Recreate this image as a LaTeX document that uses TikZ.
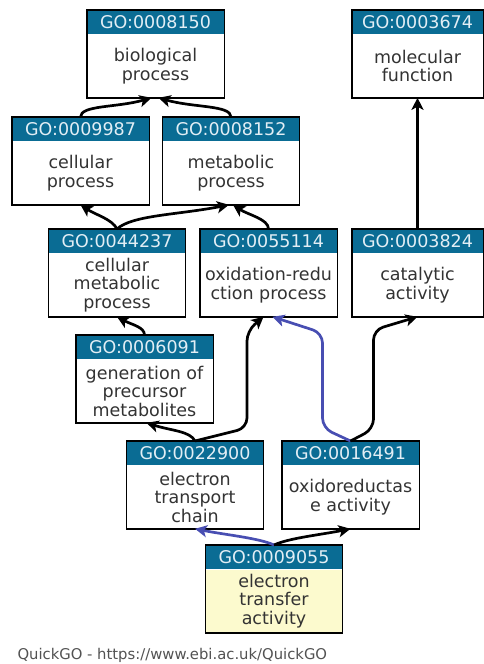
\documentclass[tikz,border=0pt]{standalone}
\usepackage{fontspec}
\setmainfont{DejaVu Sans}
\usepackage{tikz}
\usetikzlibrary{arrows.meta}

\definecolor{headblue}{RGB}{10,108,148}
\definecolor{headtext}{RGB}{226,238,245}
\definecolor{bodytext}{RGB}{51,51,51}
\definecolor{termyellow}{RGB}{252,250,206}
\definecolor{partblue}{RGB}{72,78,178}

\tikzset{
    termw/.store in=\termw, termw=137pt,
    termfill/.store in=\termfill, termfill=white,
    gohead/.style={fill=headblue, text=headtext, minimum width=\termw, minimum height=24pt,
        inner sep=0pt, font=\fontsize{17.5}{18.5}\selectfont},
    gobody/.style={fill=\termfill, text=bodytext, minimum width=\termw, minimum height=63pt,
        inner sep=0pt, align=center, font=\fontsize{17.5}{18.5}\selectfont},
    goframe/.style={draw=black, line width=1.4pt},
    isa/.style={line width=2.7pt, rounded corners=10pt, -{Stealth[length=12pt,width=12pt,inset=3pt]}},
    partof/.style={draw=partblue},
    credit/.style={text=bodytext!85, font=\fontsize{14.8}{16}\selectfont},
}

% header + body of one term
\newcommand{\goterm}[5][]{%
    \node[#1, gohead, anchor=north] (#2h) at #3 {#4};
    \node[#1, gobody, anchor=north] (#2) at (#2h.south) {#5};
    \draw[goframe] (#2h.north west) rectangle (#2.south east);
}

\begin{document}
\begin{tikzpicture}[x=1pt, y=-1pt]
    \useasboundingbox (0, 0) rectangle (484, 664);

    \goterm{go8150}{(155.5, 10)}{GO:0008150}{biological\\process}
    \goterm[termw=131pt]{go3674}{(417.5, 10)}{GO:0003674}{molecular\\function}
    \goterm{go9987}{(80.5, 117)}{GO:0009987}{cellular\\process}
    \goterm{go8152}{(231, 117)}{GO:0008152}{metabolic\\process}
    \goterm{go4237}{(117, 229)}{GO:0044237}{cellular\\metabolic\\process}
    \goterm{go5114}{(268.5, 229)}{GO:0055114}{oxidation-redu\\ction process}
    \goterm[termw=131pt]{go3824}{(417.5, 229)}{GO:0003824}{catalytic\\activity}
    \goterm{go6091}{(144.5, 335)}{GO:0006091}{generation of\\precursor\\metabolites}
    \goterm{go2900}{(195, 441)}{GO:0022900}{electron\\transport\\chain}
    \goterm{go6491}{(350.5, 441)}{GO:0016491}{oxidoreductas\\e activity}
    \goterm[termfill=termyellow]{go9055}{(274, 545)}{GO:0009055}{electron\\transfer\\activity}

    \draw[isa] (go9987h.north) .. controls +(0, -12) and +(-35, 10) .. ([xshift=-4pt]go8150.south);
    \draw[isa] (go8152h.north) .. controls +(0, -12) and +(35, 10) .. ([xshift=3pt]go8150.south);
    \draw[isa] (go4237h.north) .. controls +(-5, -10) and +(15, 10) .. (go9987.south);
    \draw[isa] (go4237h.north) .. controls +(15, -14) and +(-50, 10) .. ([xshift=-2pt]go8152.south);
    \draw[isa] (go5114h.north) .. controls +(0, -10) and +(15, 10) .. ([xshift=2pt]go8152.south);
    \draw[isa] (go3824h.north) -- (go3674.south);
    \draw[isa] (go6091h.north) .. controls +(0, -8) and +(15, 8) .. (go4237.south);
    \draw[isa] (go2900h.north) .. controls +(-5, -10) and +(25, 8) .. ([xshift=2pt]go6091.south);
    \draw[isa] (go2900h.north) -- ++(52, -13) -- ++(0, -97) -- ([xshift=-5pt]go5114.south);
    \draw[isa, partof] (go6491h.north) -- ++(-28, -13) -- ++(0, -95) -- ([xshift=4pt]go5114.south);
    \draw[isa] (go6491h.north) -- ++(23, -12) -- ++(0, -99) -- (go3824.south);
    \draw[isa, partof] (go9055h.north) .. controls +(-15, -7) and +(30, 6) .. (go2900.south);
    \draw[isa] (go9055h.north) .. controls +(15, -7) and +(-30, 6) .. (go6491.south);

    \node[credit, anchor=west] (quickgo) at (14, 655) {QuickGO - https://www.ebi.ac.uk/QuickGO};
\end{tikzpicture}
\end{document}
